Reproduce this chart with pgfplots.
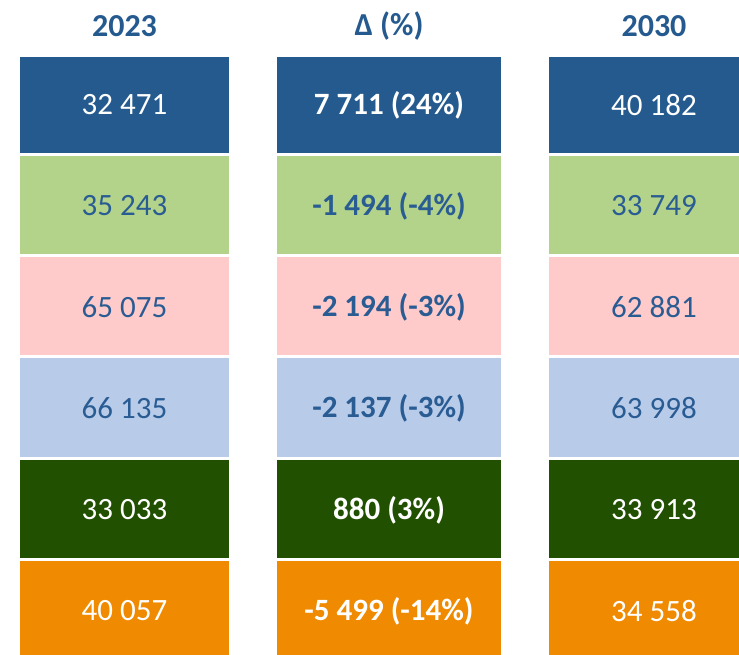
\documentclass[border=0pt]{standalone}
\usepackage{fontspec}
\setmainfont{Carlito}
\usepackage{pgfplots}
\pgfplotsset{compat=1.18}
\definecolor{hdrblue}{HTML}{255A8F}
\definecolor{cDarkBlue}{HTML}{255A8F}
\definecolor{cLightGreen}{HTML}{B2D389}
\definecolor{cPink}{HTML}{FFCACA}
\definecolor{cLightBlue}{HTML}{B8CBE9}
\definecolor{cDarkGreen}{HTML}{215000}
\definecolor{cOrange}{HTML}{F08A00}
\definecolor{txtblue}{HTML}{2A5C94}

% one cell = one filled polygon, corners in picture units (x right, y down)
\newcommand{\cell}[5]{%
  \addplot[fill=#5,draw=none] coordinates {(#1,#3)(#2,#3)(#2,#4)(#1,#4)} -- cycle;}

\tikzset{
  val/.style={font=\fontsize{31}{36}\selectfont,anchor=center},
  bval/.style={font=\fontsize{31}{36}\selectfont\bfseries,anchor=center},
  hdr/.style={font=\fontsize{32}{36}\selectfont\bfseries,text=hdrblue,anchor=center}
}

\begin{document}
\begin{tikzpicture}
\begin{axis}[
  scale only axis,
  width=739pt,height=654pt,
  xmin=0,xmax=739,ymin=0,ymax=654,
  y dir=reverse,
  hide axis,
  clip=true
]
% columns x: 20-229, 277-501, 549-759
% row 1
\cell{20}{229}{57}{153}{cDarkBlue}
\cell{277}{501}{57}{153}{cDarkBlue}
\cell{549}{759}{57}{153}{cDarkBlue}
% row 2
\cell{20}{229}{156}{254}{cLightGreen}
\cell{277}{501}{156}{254}{cLightGreen}
\cell{549}{759}{156}{254}{cLightGreen}
% row 3
\cell{20}{229}{257}{355}{cPink}
\cell{277}{501}{257}{355}{cPink}
\cell{549}{759}{257}{355}{cPink}
% row 4
\cell{20}{229}{358}{457}{cLightBlue}
\cell{277}{501}{358}{457}{cLightBlue}
\cell{549}{759}{358}{457}{cLightBlue}
% row 5
\cell{20}{229}{460}{558}{cDarkGreen}
\cell{277}{501}{460}{558}{cDarkGreen}
\cell{549}{759}{460}{558}{cDarkGreen}
% row 6
\cell{20}{229}{561}{660}{cOrange}
\cell{277}{501}{561}{660}{cOrange}
\cell{549}{759}{561}{660}{cOrange}

% headers
\node[hdr] at (axis cs:124.5,26) {2023};
\node[hdr] at (axis cs:389,26) {Δ (\%)};
\node[hdr] at (axis cs:654,26) {2030};

% 2023
\node[val,text=white]   at (axis cs:124.5,105) {32 471};
\node[val,text=txtblue] at (axis cs:124.5,206) {35 243};
\node[val,text=txtblue] at (axis cs:124.5,307) {65 075};
\node[val,text=txtblue] at (axis cs:124.5,408) {66 135};
\node[val,text=white]   at (axis cs:124.5,510) {33 033};
\node[val,text=white]   at (axis cs:124.5,611) {40 057};
% delta
\node[bval,text=white]   at (axis cs:389,105) {7 711 (24\%)};
\node[bval,text=txtblue] at (axis cs:389,206) {-1 494 (-4\%)};
\node[bval,text=txtblue] at (axis cs:389,307) {-2 194 (-3\%)};
\node[bval,text=txtblue] at (axis cs:389,408) {-2 137 (-3\%)};
\node[bval,text=white]   at (axis cs:389,510) {880 (3\%)};
\node[bval,text=white]   at (axis cs:389,611) {-5 499 (-14\%)};
% 2030
\node[val,text=white]   at (axis cs:654,105) {40 182};
\node[val,text=txtblue] at (axis cs:654,206) {33 749};
\node[val,text=txtblue] at (axis cs:654,307) {62 881};
\node[val,text=txtblue] at (axis cs:654,408) {63 998};
\node[val,text=white]   at (axis cs:654,510) {33 913};
\node[val,text=white]   at (axis cs:654,611) {34 558};
\end{axis}
\pgfresetboundingbox
\path[use as bounding box] (current axis.south west) rectangle (current axis.north east);
\end{tikzpicture}
\end{document}
